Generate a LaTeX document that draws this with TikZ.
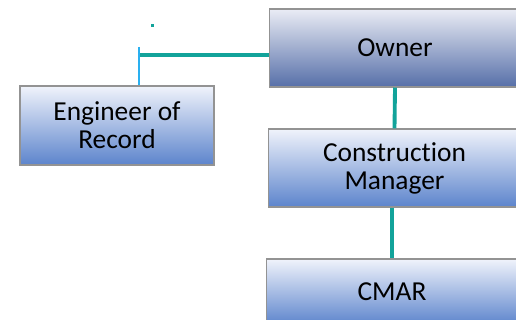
\documentclass[tikz,border=0pt]{standalone}
\usepackage{fontspec}
\setmainfont[Ligatures=NoCommon]{Carlito}
\definecolor{figT}{RGB}{18,163,154}
\definecolor{figL}{RGB}{42,176,240}
\definecolor{ownTop}{RGB}{234,236,245}
\definecolor{ownBot}{RGB}{86,111,168}
\definecolor{boxTop}{RGB}{240,243,251}
\definecolor{boxBot}{RGB}{92,132,204}
\tikzset{orgbox/.style={rectangle,draw=gray!85,line width=0.6pt,top color=boxTop,bottom color=boxBot,
  minimum width=5.04cm,minimum height=1.56cm,align=center,font=\fontsize{15.6}{16}\selectfont,inner sep=0pt}}

\begin{document}
\begin{tikzpicture}[x=0.02cm,y=-0.02cm]
\useasboundingbox (0,0) rectangle (516,320); \clip (0,0) rectangle (516,320);
\node[orgbox,top color=ownTop,bottom color=ownBot] (own) at (395,48) {Owner};
\node[orgbox,minimum width=3.88cm,minimum height=1.58cm] (eor) at (117,125.5) {Engineer of\\Record};
\node[orgbox] (cm) at (394.5,168) {Construction\\Manager};
\node[orgbox,minimum height=1.32cm] (cmar) at (392,292) {CMAR};
\coordinate (jn) at (139,55); \coordinate (eortop) at (139,47);
\draw[figT,line width=2.2pt] (own.south) -- (cm.north);
\draw[figT,line width=2.2pt] (cmar.north |- cm.south) -- (cmar.north);
\draw[figT,line width=2.2pt] (own.west |- jn) -- (jn);
\draw[figL,line width=1.6pt] (eortop) -- (eortop |- eor.north);
\fill[figT] (150.5,24.5) rectangle (153.5,27.5);
\end{tikzpicture}
\end{document}
